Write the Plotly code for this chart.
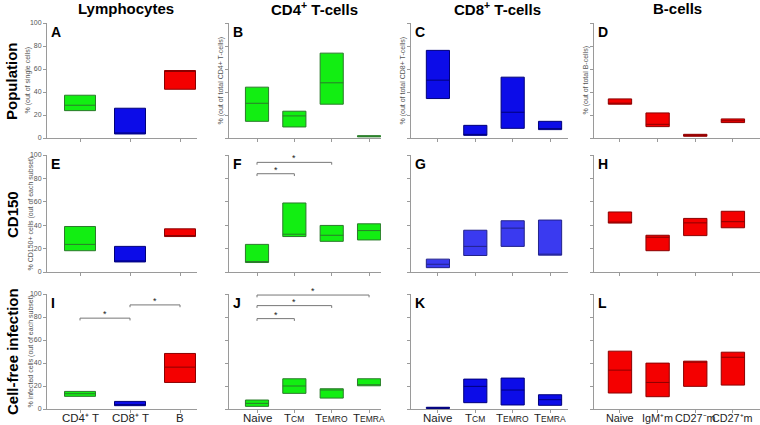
import plotly.graph_objects as go

# ---------------- data (q1, median, q3 in %) ----------------
lymph_cats = ["CD4⁺ T", "CD8⁺ T", "B"]
t_cats = ["Naive", "TCM", "TEMRO", "TEMRA"]
t_labels = ["Naive", "T<span style='font-size:8.5px'>CM</span>",
            "T<span style='font-size:8.5px'>EMRO</span>", "T<span style='font-size:8.5px'>EMRA</span>"]
b_cats = ["Naive", "IgM⁺m", "CD27⁻m", "CD27⁺m"]

col_titles = ["Lymphocytes", "CD4<sup>+</sup> T-cells", "CD8<sup>+</sup> T-cells", "B-cells"]
row_titles = ["Population", "CD150", "Cell-free infection"]
letters = ["A", "B", "C", "D", "E", "F", "G", "H", "I", "J", "K", "L"]
ytitles = ["% (out of single cells)", "% (out of total CD4+ T-cells)",
           "% (out of total CD8+ T-cells)", "% (out of total B-cells)",
           "% CD150+ cells (out of each subset)", "", "", "",
           "% infected cells (out of each subset)", "", "", ""]

# Row 1: population
A_q1 = [23.8, 3.5, 42.4];  A_med = [28.5, 3.8, 58.0];  A_q3 = [37.2, 25.9, 58.7]
B_q1 = [14.5, 9.6, 29.4, 1.0];  B_med = [30.2, 19.2, 48.0, 1.5];  B_q3 = [44.2, 23.3, 73.8, 2.0]
C_q1 = [34.3, 2.3, 8.4, 7.3];  C_med = [50.3, 2.6, 22.4, 7.6];  C_q3 = [76.2, 11.0, 52.9, 14.5]
D_q1 = [29.4, 9.9, 1.5, 13.4];  D_med = [29.8, 11.9, 2.2, 15.0];  D_q3 = [34.0, 21.8, 3.2, 16.6]
# Row 2: CD150
E_q1 = [18.2, 8.6, 30.3];  E_med = [23.6, 8.8, 31.0];  E_q3 = [38.9, 21.9, 36.9]
F_q1 = [8.1, 30.3, 26.2, 27.4];  F_med = [8.6, 32.3, 31.4, 35.4];  F_q3 = [23.6, 59.0, 39.8, 41.2]
G_q1 = [3.7, 14.1, 21.9, 14.4];  G_med = [6.6, 21.9, 37.5, 14.6];  G_q3 = [11.0, 35.7, 43.8, 44.4]
H_q1 = [41.8, 18.2, 31.1, 37.8];  H_med = [42.6, 29.7, 42.0, 43.0];  H_q3 = [51.3, 31.4, 45.8, 51.9]
# Row 3: cell-free infection
I_q1 = [11.0, 2.9, 23.1];  I_med = [13.3, 3.2, 36.4];  I_q3 = [15.3, 6.6, 48.3]
J_q1 = [2.3, 13.6, 9.5, 20.2];  J_med = [4.9, 20.0, 16.5, 21.1];  J_q3 = [7.8, 26.3, 17.6, 26.3]
K_q1 = [0.5, 5.5, 3.5, 3.2];  K_med = [1.0, 19.7, 16.5, 8.1];  K_q3 = [1.5, 26.0, 26.9, 12.4]
L_q1 = [13.9, 10.7, 19.7, 20.8];  L_med = [33.8, 23.1, 41.0, 45.0];  L_q3 = [50.3, 39.9, 41.6, 49.4]

# significance brackets: (panel index, from category idx, to category idx, y level)
brackets = [(5, 0, 1, 84.0), (5, 0, 2, 93.7),
            (8, 0, 1, 79.0), (8, 1, 2, 90.5),
            (9, 0, 1, 78.6), (9, 0, 2, 89.9), (9, 0, 3, 99.1)]

# ---------------- styles ----------------
GREEN = ("#12ee12", "#2b7a2b")
BLUE = ("#0c0ce8", "#00007a")
BLUE2 = ("#3a3af0", "#22228a")
RED = ("#f40000", "#8b0000")

panels = [
    (lymph_cats, A_q1, A_med, A_q3, [GREEN, BLUE, RED]),
    (t_cats, B_q1, B_med, B_q3, [GREEN] * 4),
    (t_cats, C_q1, C_med, C_q3, [BLUE] * 4),
    (b_cats, D_q1, D_med, D_q3, [RED] * 4),
    (lymph_cats, E_q1, E_med, E_q3, [GREEN, BLUE, RED]),
    (t_cats, F_q1, F_med, F_q3, [GREEN] * 4),
    (t_cats, G_q1, G_med, G_q3, [BLUE2] * 4),
    (b_cats, H_q1, H_med, H_q3, [RED] * 4),
    (lymph_cats, I_q1, I_med, I_q3, [GREEN, BLUE, RED]),
    (t_cats, J_q1, J_med, J_q3, [GREEN] * 4),
    (t_cats, K_q1, K_med, K_q3, [BLUE] * 4),
    (b_cats, L_q1, L_med, L_q3, [RED] * 4),
]

W, H = 760, 425
col_px = [(47, 197), (229, 381), (411, 568), (594, 760)]
col_range = [(-0.66, 2.34), (-0.75, 3.32), (-0.72, 3.48), (-0.69, 3.72)]
row_px = [(23, 138), (155, 272), (294, 409)]
ytitle_x = [27, 220, 402, 585]
ytitle_x_rows = {4: 30, 8: 30}
xlabel_size = [11.5, 11.5, 11.5, 10.8]

FONT = "Liberation Sans"
AX = "#9a9a9a"

fig = go.Figure()
layout = dict(width=W, height=H, margin=dict(l=0, r=0, t=0, b=0, autoexpand=False),
              paper_bgcolor="white", plot_bgcolor="white", showlegend=False,
              font=dict(family=FONT, color="#222"))
annotations = []

def px2x(p):
    return p / W

def px2y(p):
    return 1 - p / H

for p, (cats, q1, med, q3, cols) in enumerate(panels):
    r, c = divmod(p, 4)
    n = p + 1
    xa = "x" if n == 1 else f"x{n}"
    ya = "y" if n == 1 else f"y{n}"
    for i, cat in enumerate(cats):
        fill, edge = cols[i]
        fig.add_trace(go.Box(
            x=[cat], q1=[q1[i]], median=[med[i]], q3=[q3[i]],
            lowerfence=[q1[i]], upperfence=[q3[i]],
            width=0.62, whiskerwidth=0, boxpoints=False,
            fillcolor=fill, line=dict(color=edge, width=1),
            xaxis=xa, yaxis=ya, hoverinfo="skip"))
    x0, x1 = col_px[c]
    y0, y1 = row_px[r]
    ticktext = t_labels if cats is t_cats else cats
    layout["xaxis" if n == 1 else f"xaxis{n}"] = dict(
        domain=[px2x(x0), px2x(x1)], anchor=ya, type="category",
        categoryorder="array", categoryarray=cats,
        range=list(col_range[c]), tickmode="array", tickvals=cats,
        showticklabels=False, ticks="outside", ticklen=3, tickcolor=AX,
        automargin=False,
        showline=True, linecolor=AX, linewidth=1, showgrid=False, zeroline=False,
        fixedrange=True)
    layout["yaxis" if n == 1 else f"yaxis{n}"] = dict(
        domain=[px2y(y1), px2y(y0)], anchor=xa, range=[0, 100],
        tickmode="array", tickvals=[0, 20, 40, 60, 80, 100], automargin=False,
        showticklabels=(c == 0), ticks="outside", ticklen=3, tickcolor=AX,
        showline=True, linecolor=AX, linewidth=1, showgrid=False, zeroline=False,
        tickfont=dict(family=FONT, size=7, color="#555"), fixedrange=True)
    # category labels under the bottom row
    if r == 2:
        for i, cat in enumerate(cats):
            annotations.append(dict(text=ticktext[i], x=cat, xref=xa, yref="paper",
                                    y=px2y(418), xanchor="center", yanchor="middle",
                                    showarrow=False,
                                    font=dict(family=FONT, size=xlabel_size[c], color="#222")))
    # panel letter
    annotations.append(dict(text=f"<b>{letters[p]}</b>", xref="paper", yref="paper",
                            x=px2x(x0 + 2), y=px2y(y0 - 1), xanchor="left", yanchor="top",
                            showarrow=False, font=dict(family=FONT, size=14, color="black")))
    # y title
    if ytitles[p]:
        tx = ytitle_x_rows.get(p, ytitle_x[c])
        annotations.append(dict(text=ytitles[p], xref="paper", yref="paper",
                                x=px2x(tx), y=px2y((y0 + y1) / 2), textangle=-90,
                                xanchor="center", yanchor="middle", showarrow=False,
                                font=dict(family=FONT, size=7, color="#555")))

# brackets
for (p, i, j, yv) in brackets:
    cats = panels[p][0]
    n = p + 1
    xa = "x" if n == 1 else f"x{n}"
    ya = "y" if n == 1 else f"y{n}"
    fig.add_trace(go.Scatter(x=[cats[i], cats[i], cats[j], cats[j]],
                             y=[yv - 2, yv, yv, yv - 2], mode="lines",
                             line=dict(color="#777", width=1),
                             xaxis=xa, yaxis=ya, hoverinfo="skip"))
    annotations.append(dict(text="*", x=(i + j) / 2, y=yv, xref=xa, yref=ya,
                            yanchor="bottom", showarrow=False, yshift=-3,
                            font=dict(family=FONT, size=9, color="#222")))

# column headers
col_centers = [126, 314, 497, 677]
for c, t in enumerate(col_titles):
    annotations.append(dict(text=f"<b>{t}</b>", xref="paper", yref="paper",
                            x=px2x(col_centers[c]), y=px2y(9), xanchor="center",
                            yanchor="middle", showarrow=False,
                            font=dict(family=FONT, size=15, color="black")))
# row headers
row_centers = [81, 215, 352]
for r, t in enumerate(row_titles):
    annotations.append(dict(text=f"<b>{t}</b>", xref="paper", yref="paper",
                            x=px2x(12), y=px2y(row_centers[r]), textangle=-90,
                            xanchor="center", yanchor="middle", showarrow=False,
                            font=dict(family=FONT, size=15, color="black")))

layout["annotations"] = annotations
fig.update_layout(**layout)
fig.write_html("out.html", config={"displayModeBar": False},
               post_script="document.body.style.margin='0';document.body.style.overflow='hidden';")
